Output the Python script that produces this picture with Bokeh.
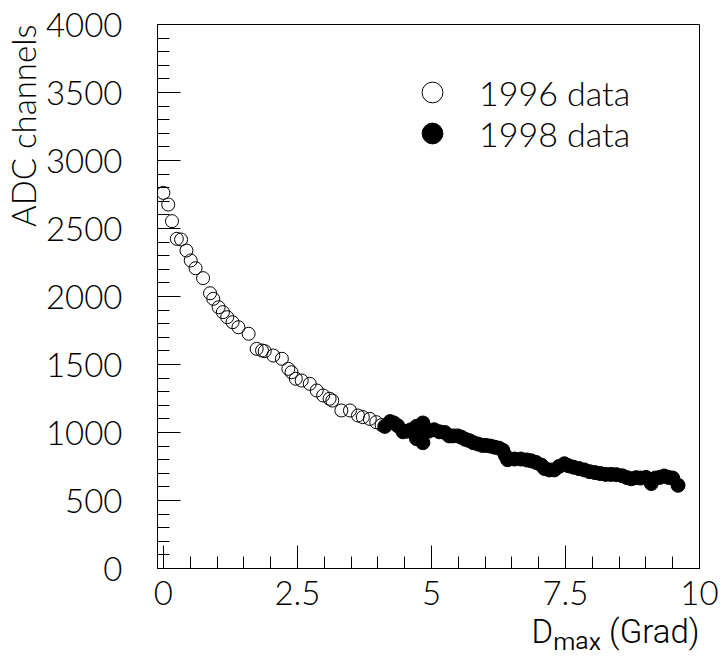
import math
from bokeh.plotting import figure
from bokeh.models import Range1d, FixedTicker, Legend, LegendItem, Title
from bokeh.embed import file_html
from bokeh.resources import INLINE

# ---- data ----
x_1996 = [0.00, 0.09, 0.16, 0.25, 0.33, 0.43, 0.51, 0.60, 0.74, 0.87, 0.93, 1.03,
          1.11, 1.19, 1.29, 1.40, 1.59, 1.74, 1.84, 1.89, 2.05, 2.21, 2.33, 2.39,
          2.47, 2.58, 2.73, 2.86, 2.98, 3.10, 3.15, 3.32, 3.48, 3.63, 3.72, 3.85,
          3.97, 4.07]
y_1996 = [2762, 2676, 2554, 2424, 2419, 2338, 2265, 2208, 2135, 2024, 1983, 1921,
          1885, 1848, 1811, 1774, 1726, 1615, 1603, 1598, 1566, 1542, 1468, 1443,
          1395, 1382, 1358, 1309, 1272, 1248, 1235, 1162, 1162, 1125, 1113, 1100,
          1076, 1055]

x_1998 = [4.13, 4.23, 4.30, 4.37, 4.47, 4.55, 4.62, 4.72, 4.74, 4.72, 4.84, 4.84,
          4.84, 4.86, 4.95, 5.05, 5.15, 5.25, 5.33, 5.40, 5.49, 5.56, 5.63, 5.71,
          5.78, 5.87, 5.95, 6.02, 6.10, 6.18, 6.26, 6.33, 6.38, 6.42, 6.55, 6.67,
          6.78, 6.86, 6.95, 7.05, 7.11, 7.20, 7.29, 7.38, 7.48, 7.56, 7.65, 7.75,
          7.85, 7.95, 8.05, 8.15, 8.25, 8.35, 8.45, 8.56, 8.65, 8.73, 8.82, 8.90,
          9.00, 9.10, 9.18, 9.26, 9.34, 9.42, 9.50, 9.60]
y_1998 = [1045, 1080, 1070, 1050, 1005, 1010, 1020, 1045, 975, 955, 1070, 990,
          925, 1040, 1010, 1020, 1005, 1000, 975, 975, 975, 965, 950, 940,
          925, 915, 905, 905, 900, 892, 885, 870, 830, 800, 805, 805,
          798, 792, 780, 760, 735, 725, 725, 750, 770, 755, 745, 735,
          725, 712, 705, 698, 692, 692, 690, 682, 668, 660, 668, 665,
          670, 625, 665, 670, 680, 670, 665, 612]

x_ticks = [0, 2.5, 5, 7.5, 10]
x_tick_labels = ["0", "2.5", "5", "7.5", "10"]
x_minor_ticks = [i * 0.5 for i in range(21)]
y_ticks = [0, 500, 1000, 1500, 2000, 2500, 3000, 3500, 4000]
y_tick_labels = ["0", "500", "1000", "1500", "2000", "2500", "3000", "3500", "4000"]
y_minor_ticks = [i * 100 for i in range(41)]

series_labels = ["1996 data", "1998 data"]
y_title = "ADC channels"
x_title = "D\u2098\u2090\u2093 (Grad)"

FONT = "Lato Light, DejaVu Sans"
XT_FONT = "Roboto Light, DejaVu Sans"

X0, X1 = -0.11, 10.0
Y0, Y1 = 0.0, 4000.0
LEFT, RIGHT, TOP, BOTTOM = 155, 22, 24, 92
W, H = 721, 660

p = figure(width=W, height=H, output_backend="svg", toolbar_location=None,
           x_range=Range1d(X0, X1), y_range=Range1d(Y0, Y1),
           min_border_left=LEFT, min_border_right=RIGHT,
           min_border_top=TOP, min_border_bottom=BOTTOM)

p.background_fill_color = "white"
p.border_fill_color = "white"
p.outline_line_color = "black"
p.outline_line_width = 1
p.xgrid.visible = False
p.ygrid.visible = False

for ax in (p.xaxis[0], p.yaxis[0]):
    ax.axis_line_color = "black"
    ax.major_tick_line_color = "black"
    ax.minor_tick_line_color = "black"
    ax.major_tick_in = 23
    ax.major_tick_out = 0
    ax.minor_tick_in = 12
    ax.minor_tick_out = 0
    ax.major_label_text_font = FONT
    ax.major_label_text_font_size = "33px"
    ax.major_label_text_color = "black"

p.xaxis.ticker = FixedTicker(ticks=x_ticks, minor_ticks=x_minor_ticks)
p.yaxis.ticker = FixedTicker(ticks=y_ticks, minor_ticks=y_minor_ticks)
p.xaxis.major_label_overrides = {t: l for t, l in zip(x_ticks, x_tick_labels)}
p.yaxis.major_label_overrides = {t: l for t, l in zip(y_ticks, y_tick_labels)}
p.xaxis.major_label_standoff = 12
p.yaxis.major_label_standoff = 35

r96 = p.scatter(x_1996, y_1996, marker="circle", size=13, fill_color=None,
                line_color="black", line_width=1)
r98 = p.scatter(x_1998, y_1998, marker="circle", size=14, fill_color="black",
                line_color="black", line_width=1)

legend_rows = [(series_labels[0], r96, 450), (series_labels[1], r98, 409)]
for lab, rend, vy in legend_rows:
    lg = Legend(items=[LegendItem(label=lab, renderers=[rend])],
                location=(249, vy), glyph_width=52, glyph_height=52,
                label_height=52, spacing=0, padding=0, margin=0,
                label_standoff=21, border_line_color=None,
                background_fill_alpha=0,
                label_text_font=FONT, label_text_font_size="34px",
                label_text_color="black")
    p.add_layout(lg)

p.add_layout(Title(text=y_title, align="right", text_font=FONT,
                   text_font_size="33px", text_font_style="normal",
                   text_color="black", standoff=0, offset=0), "left")
p.add_layout(Title(text=x_title, align="right", text_font=XT_FONT,
                   text_font_size="33px", text_font_style="normal",
                   text_color="black", standoff=4, offset=0), "below")

open("out.html", "w").write(file_html(p, INLINE))
